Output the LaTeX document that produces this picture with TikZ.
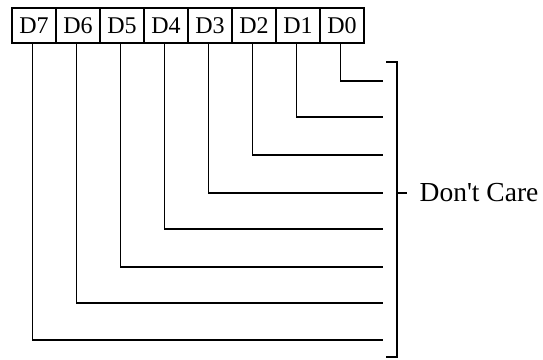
\documentclass[tikz,border=0pt]{standalone}
\usepackage{fontspec}
\setmainfont{Liberation Serif}
\usetikzlibrary{calc,positioning}

\begin{document}
\begin{tikzpicture}[x=1pt,y=-1pt,line width=1.3pt,bit/.style={draw, line width=1.5pt, minimum width=44pt, minimum height=35pt, inner sep=0pt, text height=16pt, text depth=0pt, font=\fontsize{24}{24}\selectfont}]
\useasboundingbox (0,0) rectangle (543,359);
\foreach \i/\x in {7/34,6/78,5/122,4/166,3/210,2/254,1/298,0/342}{\node[bit] (D\i) at (\x,25.5){D\i};}
% lines from each bit to the bracket
\foreach \i/\y in {0/81,1/117,2/155,3/193,4/229,5/267,6/303,7/340}{\coordinate (e\i) at (383,\y); \draw ([xshift=-1.5pt]D\i.south) |- (e\i);}
\coordinate (bt) at (397,62);
\coordinate (bb) at (397,357);
\node[anchor=west, inner sep=0pt, font=\fontsize{27.5}{27.5}\selectfont] (dc) at (419,193){Don\textquotesingle t Care};
\draw ([xshift=-11pt]bt) -- (bt) -- (bb) -- ([xshift=-11pt]bb);
\draw (bt |- dc.west) -- ([xshift=-12pt]dc.west);
\end{tikzpicture}
\end{document}
